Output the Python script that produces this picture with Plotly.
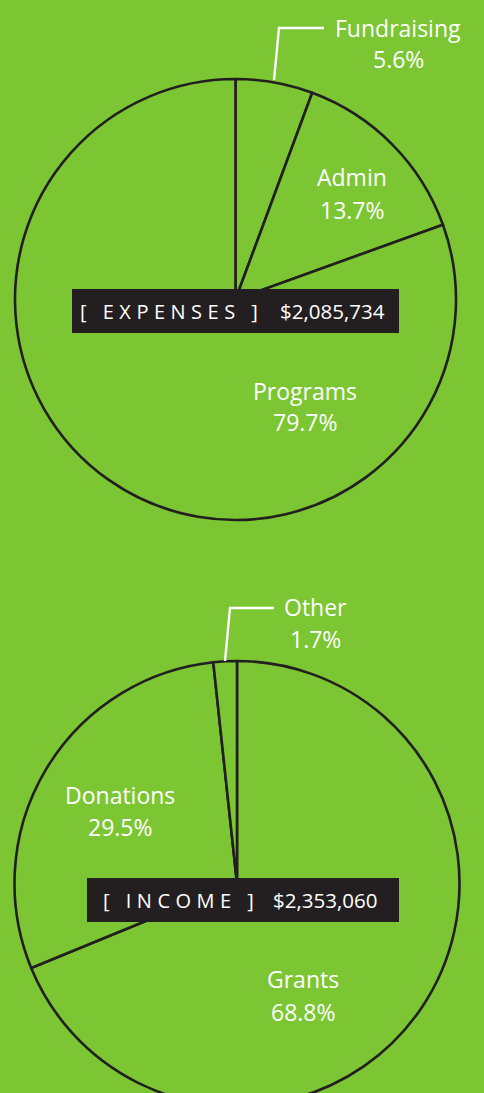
import plotly.graph_objects as go

# ---------------- data ----------------
expense_labels = ["Fundraising", "Admin", "Programs"]
expense_pct = [5.6, 13.7, 79.7]
expense_title = "[ EXPENSES ]"
expense_total = "$2,085,734"

income_labels = ["Grants", "Donations", "Other"]
income_pct = [68.8, 29.5, 1.7]
income_title = "[ INCOME ]"
income_total = "$2,353,060"

# ---------------- style ----------------
W, H = 484, 1106          # page is clipped to 1093 by the window; the income pie runs off the bottom
GREEN = "#7BC632"
DARK = "#231F20"
WHITE = "#FFFFFF"
FONT = "Open Sans"


def px(x):
    return x / W


def py(y):
    return 1 - y / H


fig = go.Figure()

fig.add_trace(go.Pie(
    labels=expense_labels, values=expense_pct, sort=False,
    direction="clockwise", rotation=0,
    marker=dict(colors=[GREEN] * len(expense_labels), line=dict(color=DARK, width=2.6)),
    textinfo="none", hoverinfo="skip", showlegend=False,
    domain=dict(x=[px(13), px(458)], y=[py(520), py(79)]),
))

fig.add_trace(go.Pie(
    labels=income_labels, values=income_pct, sort=False,
    direction="clockwise", rotation=0,
    marker=dict(colors=[GREEN] * len(income_labels), line=dict(color=DARK, width=2.6)),
    textinfo="none", hoverinfo="skip", showlegend=False,
    domain=dict(x=[px(14), px(460)], y=[0, py(661)]),
))

annotations = []
shapes = []

# slice labels: x-center, y of name, y of pct
label_pos = {
    "Fundraising": (398, 28, 59),
    "Admin": (352, 177, 210),
    "Programs": (305, 391, 422),
    "Grants": (303, 979, 1012),
    "Donations": (120, 795, 827),
    "Other": (315, 607, 639),
}
for labs, pcts in ((expense_labels, expense_pct), (income_labels, income_pct)):
    for lab, pct in zip(labs, pcts):
        cx, y1, y2 = label_pos[lab]
        annotations.append(dict(x=px(cx), y=py(y1), xref="paper", yref="paper",
                                text=lab, showarrow=False, xanchor="center", yanchor="middle",
                                font=dict(family=FONT, size=23, color=WHITE)))
        annotations.append(dict(x=px(cx), y=py(y2), xref="paper", yref="paper",
                                text=f"{pct}%", showarrow=False, xanchor="center", yanchor="middle",
                                font=dict(family=FONT, size=23, color=WHITE)))

# leader lines for small slices
for pts in (((274, 80), (279, 28), (324, 28)), ((225, 661), (230, 608), (274, 608))):
    path = "M " + " L ".join(f"{px(x)},{py(y)}" for x, y in pts)
    shapes.append(dict(type="path", path=path, xref="paper", yref="paper",
                       line=dict(color=WHITE, width=2.4)))

# title boxes
boxes = [
    (expense_title, expense_total, (72, 289, 399, 333), 78, 387),
    (income_title, income_total, (87, 878, 399, 922), 101, 379),
]
for title, total, (x0, y0, x1, y1), tx, vx in boxes:
    shapes.append(dict(type="rect", xref="paper", yref="paper",
                       x0=px(x0), x1=px(x1), y0=py(y1), y1=py(y0),
                       fillcolor=DARK, line=dict(width=0)))
    yc = (y0 + y1) / 2
    annotations.append(dict(x=px(tx), y=py(yc), xref="paper", yref="paper",
                            text=f'<span style="letter-spacing:5.5px">{title}</span>',
                            showarrow=False, xanchor="left", yanchor="middle",
                            font=dict(family=FONT, size=20, color=WHITE)))
    annotations.append(dict(x=px(vx), y=py(yc), xref="paper", yref="paper",
                            text=total, showarrow=False, xanchor="right", yanchor="middle",
                            font=dict(family=FONT, size=20.5, color=WHITE)))

fig.update_layout(
    width=W, height=H,
    margin=dict(l=0, r=0, t=0, b=0),
    paper_bgcolor=GREEN, plot_bgcolor=GREEN,
    annotations=annotations, shapes=shapes,
)

fig.write_html(
    "out.html",
    config={"displayModeBar": False},
    post_script="document.documentElement.style.overflow='hidden';"
                "document.body.style.margin='0px';document.body.style.overflow='hidden';",
)
